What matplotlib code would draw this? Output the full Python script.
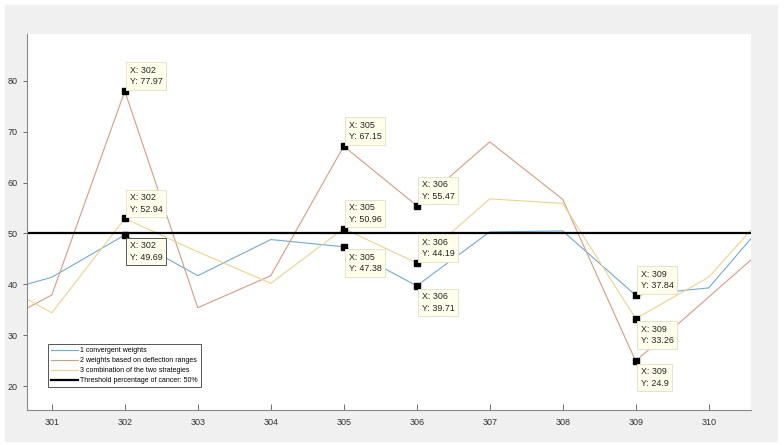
import matplotlib.pyplot as plt
from matplotlib.patches import Rectangle

plt.rcParams['font.family'] = ['Liberation Sans', 'DejaVu Sans']

# sample index on x, percentage on y
x = [300, 301, 302, 303, 304, 305, 306, 307, 308, 309, 310, 311]
convergent = [37.3, 41.4, 49.69, 41.7, 48.8, 47.38, 39.71, 50.3, 50.5, 37.84, 39.3, 56.0]
deflection = [30.3, 37.9, 77.97, 35.4, 41.7, 67.15, 55.47, 68.0, 56.7, 24.9, 37.5, 50.1]
combination = [42.3, 34.4, 52.94, 46.4, 40.2, 50.96, 44.19, 56.8, 55.9, 33.26, 41.4, 57.4]
threshold = 50

labels = ['1 convergent weights',
          '2 weights based on deflection ranges',
          '3 combination of the two strategies',
          'Threshold percentage of cancer: 50%']
xticks = [301, 302, 303, 304, 305, 306, 307, 308, 309, 310]
yticks = [20, 30, 40, 50, 60, 70, 80]

# data tips: (series number, x)
tips = [(2, 302), (3, 302), (1, 302),
        (2, 305), (3, 305), (1, 305),
        (2, 306), (3, 306), (1, 306),
        (1, 309), (3, 309), (2, 309)]
tip_side = ['up', 'up', 'down', 'up', 'up', 'down',
            'up', 'up', 'down', 'up', 'down', 'down']

series = {1: convergent, 2: deflection, 3: combination}
colors = ['#72abd0', '#d89c82', '#ecd38e']

fig = plt.figure(figsize=(7.84, 4.45), dpi=100, facecolor='white')
fig.patches.append(Rectangle((5 / 784, 4 / 445), 772 / 784, 436 / 445,
                             transform=fig.transFigure, color='#f0f0f0', zorder=-10))
ax = fig.add_axes([27 / 784, 1 - 409.5 / 445, 724 / 784, 375.5 / 445])

for i in range(3):
    ax.plot(x, series[i + 1], color=colors[i], lw=0.8, label=labels[i])
ax.axhline(threshold, color='black', lw=1.6, label=labels[3])

for (s, xv), side in zip(tips, tip_side):
    yv = series[s][x.index(xv)]
    ax.plot(xv, yv, 's', color='black', ms=4.5, zorder=5)
    txt = 'X: %d\nY: %s' % (xv, ('%.2f' % yv).rstrip('0'))
    if side == 'up':
        off, va = (3.5, 3.5), 'bottom'
    else:
        off, va = (3.5, -4.5), 'top'
    edge = '#555555' if (s, xv) == (1, 302) else '#e4e4cc'
    ax.annotate(txt, (xv, yv), xytext=off, textcoords='offset points',
                ha='left', va=va, fontsize=6.4, color='#222222', linespacing=1.35,
                bbox=dict(boxstyle='square,pad=0.4', fc='#ffffec', ec=edge, lw=0.7),
                zorder=6)

ax.set_xlim(300.66, 310.58)
ax.set_ylim(15.4, 89.2)
ax.set_xticks(xticks)
ax.set_yticks(yticks)
ax.tick_params(axis='x', direction='in', length=4.5, width=0.6, colors='#555555',
               labelsize=6.5, labelcolor='#333333', pad=6)
ax.tick_params(axis='y', direction='out', length=3, width=0.6, colors='#555555',
               labelsize=6.5, labelcolor='#333333')
for side in ['top', 'right']:
    ax.spines[side].set_visible(False)
for side in ['left', 'bottom']:
    ax.spines[side].set_color('#888888')
    ax.spines[side].set_linewidth(0.8)

leg = ax.legend(loc='lower left', bbox_to_anchor=(0.024, 0.05), fontsize=5.0,
                fancybox=False, edgecolor='#555555', framealpha=1,
                handlelength=4.0, handletextpad=0.3, labelspacing=0.45,
                borderpad=0.4)
leg.get_frame().set_linewidth(0.7)

fig.savefig('out.png', dpi=100, facecolor=fig.get_facecolor())
